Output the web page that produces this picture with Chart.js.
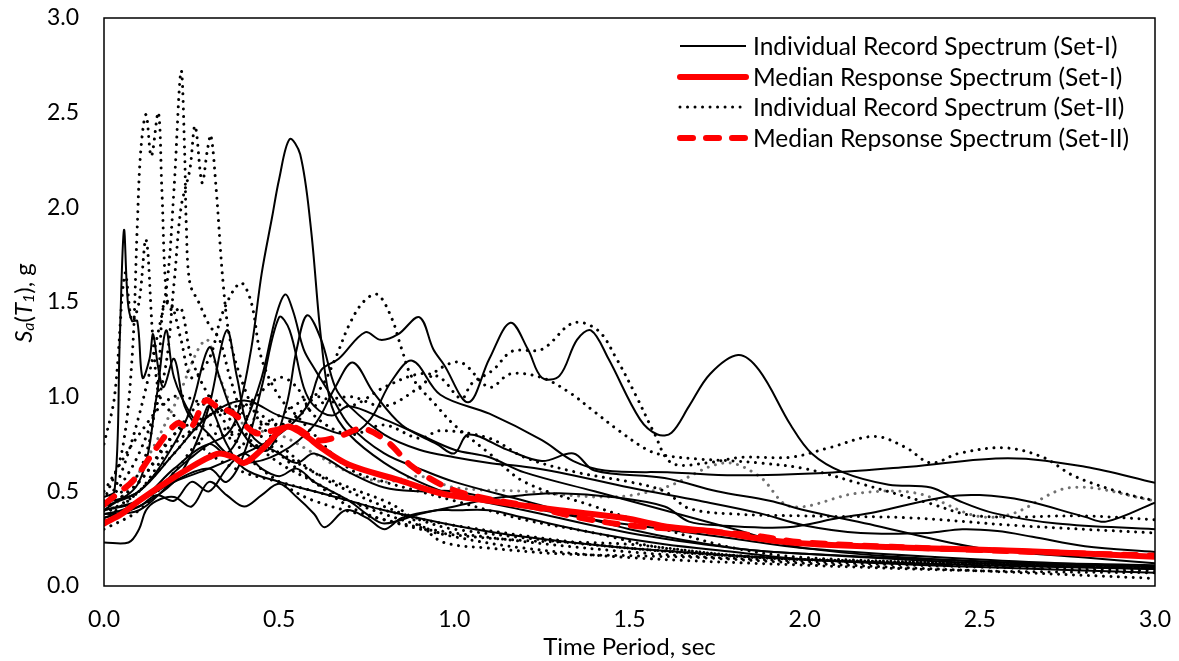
<!DOCTYPE html>
<html><head><meta charset="utf-8">
<script src="https://cdn.jsdelivr.net/npm/chart.js@4.4.1/dist/chart.umd.min.js"></script>
<style>html,body{margin:0;padding:0;background:#fff;}#wrap{width:1179px;height:661px;position:relative;}</style>
</head><body><div id="wrap"><canvas id="c" width="1179" height="661"></canvas></div>
<script>
// ---- Tick labels ----
const xTickValues = [0, 0.5, 1.0, 1.5, 2.0, 2.5, 3.0];
const yTickValues = [0, 0.5, 1.0, 1.5, 2.0, 2.5, 3.0];
const xAxisTitle = 'Time Period, sec';
const legendLabels = [
  'Individual Record Spectrum (Set-I)',
  'Median Response Spectrum (Set-I)',
  'Individual Record Spectrum (Set-II)',
  'Median Repsonse Spectrum (Set-II)'
];

// ---- Set-I individual records: [period (s), Sa (g)] ----
const set1Rec01 = [[0,0.38],[0.05,0.4],[0.1,0.45],[0.15,0.5],[0.2,0.6],[0.25,0.68],[0.3,0.75],[0.35,0.8],[0.38,0.9],[0.42,1.25],[0.45,1.65],[0.48,1.95],[0.5,2.15],[0.53,2.36],[0.56,2.28],[0.59,1.9],[0.62,1.3],[0.65,0.95],[0.7,0.8],[0.8,0.65],[0.9,0.55],[1.0,0.48],[1.2,0.4],[1.5,0.28],[1.8,0.2],[2.0,0.17],[2.5,0.13],[3.0,0.11]];
const set1Rec02 = [[0,0.47],[0.03,0.5],[0.045,1.3],[0.057,1.88],[0.068,1.5],[0.08,1.4],[0.095,1.4],[0.11,1.1],[0.13,1.2],[0.14,1.33],[0.155,1.15],[0.17,1.05],[0.2,1.2],[0.23,0.95],[0.27,0.85],[0.3,0.95],[0.35,0.75],[0.4,0.62],[0.5,0.55],[0.6,0.5],[0.7,0.45],[0.8,0.4],[1.0,0.32],[1.2,0.26],[1.5,0.2],[2.0,0.14],[2.5,0.11],[3.0,0.09]];
const set1Rec03 = [[0,0.4],[0.1,0.45],[0.2,0.62],[0.3,0.75],[0.35,0.7],[0.4,0.85],[0.45,1.1],[0.49,1.42],[0.517,1.54],[0.54,1.45],[0.57,1.25],[0.6,1.15],[0.65,1.0],[0.7,0.85],[0.8,0.7],[0.9,0.62],[1.0,0.55],[1.2,0.45],[1.5,0.3],[1.8,0.2],[2.0,0.17],[2.5,0.12],[3.0,0.09]];
const set1Rec04 = [[0,0.38],[0.1,0.4],[0.2,0.55],[0.3,0.62],[0.35,0.55],[0.4,0.7],[0.45,1.05],[0.5,1.42],[0.53,1.35],[0.57,1.05],[0.6,0.95],[0.65,0.9],[0.7,0.95],[0.8,0.88],[0.9,0.8],[1.0,0.72],[1.1,0.68],[1.2,0.6],[1.4,0.5],[1.6,0.4],[1.8,0.3],[2.0,0.2],[2.5,0.13],[3.0,0.1]];
const set1Rec05 = [[0,0.44],[0.1,0.5],[0.2,0.75],[0.25,0.95],[0.3,1.26],[0.33,1.1],[0.37,0.9],[0.42,0.75],[0.47,0.72],[0.52,0.95],[0.55,1.25],[0.58,1.43],[0.62,1.3],[0.66,1.05],[0.7,0.95],[0.8,0.8],[0.9,0.72],[1.0,0.68],[1.1,0.65],[1.2,0.63],[1.3,0.6],[1.5,0.52],[1.7,0.45],[1.87,0.385],[2.0,0.32],[2.16,0.28],[2.35,0.28],[2.45,0.3],[2.55,0.29],[2.65,0.26],[2.8,0.21],[3.0,0.18]];
const set1Rec06 = [[0,0.4],[0.1,0.45],[0.2,0.55],[0.3,0.62],[0.4,0.7],[0.5,0.8],[0.58,0.95],[0.62,1.14],[0.67,1.2],[0.745,1.34],[0.79,1.3],[0.84,1.33],[0.9,1.42],[0.94,1.25],[0.97,1.17],[1.04,0.97],[1.1,1.2],[1.16,1.39],[1.21,1.25],[1.25,1.1],[1.3,1.11],[1.35,1.3],[1.39,1.35],[1.44,1.2],[1.53,0.88],[1.58,0.8],[1.62,0.81],[1.67,0.95],[1.73,1.12],[1.81,1.22],[1.87,1.14],[1.96,0.85],[2.02,0.7],[2.11,0.6],[2.24,0.535],[2.36,0.52],[2.44,0.45],[2.54,0.385],[2.72,0.33],[3.0,0.3]];
const set1Rec07 = [[0,0.42],[0.1,0.5],[0.2,0.7],[0.3,0.9],[0.4,0.98],[0.5,0.9],[0.6,0.85],[0.7,0.8],[0.76,0.88],[0.82,1.08],[0.88,1.19],[0.96,1.01],[1.1,0.91],[1.25,0.77],[1.34,0.66],[1.43,0.61],[1.62,0.6],[1.8,0.585],[2.08,0.6],[2.3,0.63],[2.58,0.675],[2.8,0.63],[3.0,0.545]];
const set1Rec08 = [[0,0.4],[0.1,0.55],[0.15,1.0],[0.177,1.35],[0.2,1.1],[0.25,0.9],[0.3,0.8],[0.35,0.7],[0.4,0.65],[0.5,0.7],[0.6,0.85],[0.66,1.05],[0.71,1.18],[0.77,1.02],[0.85,0.85],[0.95,0.75],[1.0,0.7],[1.04,0.8],[1.15,0.72],[1.25,0.66],[1.34,0.7],[1.4,0.61],[1.6,0.57],[1.75,0.5],[1.9,0.45],[2.0,0.4],[2.2,0.32],[2.5,0.2],[2.8,0.15],[3.0,0.12]];
const set1Rec09 = [[0,0.23],[0.07,0.23],[0.1,0.3],[0.12,0.4],[0.15,0.45],[0.2,0.47],[0.25,0.42],[0.3,0.55],[0.35,0.48],[0.4,0.42],[0.45,0.48],[0.5,0.54],[0.55,0.47],[0.6,0.38],[0.63,0.31],[0.69,0.4],[0.75,0.36],[0.8,0.3],[0.85,0.36],[0.95,0.4],[1.0,0.4],[1.1,0.4],[1.2,0.36],[1.4,0.28],[1.6,0.22],[1.8,0.18],[2.0,0.14],[2.5,0.1],[3.0,0.07]];
const set1Rec10 = [[0,0.36],[0.1,0.42],[0.15,0.48],[0.2,0.45],[0.25,0.55],[0.3,0.5],[0.35,0.62],[0.4,0.7],[0.45,0.62],[0.5,0.58],[0.55,0.62],[0.6,0.55],[0.7,0.45],[0.75,0.38],[0.8,0.33],[0.9,0.38],[1.0,0.42],[1.1,0.46],[1.2,0.48],[1.3,0.49],[1.45,0.47],[1.6,0.42],[1.67,0.34],[1.76,0.32],[1.95,0.31],[2.1,0.36],[2.2,0.39],[2.4,0.47],[2.5,0.48],[2.63,0.45],[2.8,0.365],[2.86,0.34],[3.0,0.44]];
const set1Rec11 = [[0,0.36],[0.1,0.42],[0.2,0.55],[0.25,0.7],[0.3,0.95],[0.35,1.35],[0.38,1.1],[0.42,0.8],[0.5,0.7],[0.55,0.65],[0.6,0.7],[0.7,0.6],[0.8,0.52],[0.9,0.5],[1.0,0.5],[1.2,0.42],[1.4,0.35],[1.6,0.3],[1.8,0.25],[2.0,0.2],[2.5,0.14],[3.0,0.1]];

// ---- Set-II individual records ----
const set2Rec01 = [[0,0.4],[0.05,0.6],[0.1,0.9],[0.15,1.3],[0.18,1.6],[0.2,2.1],[0.22,2.72],[0.23,2.3],[0.235,1.9],[0.245,1.6],[0.27,1.5],[0.3,1.38],[0.33,1.3],[0.36,1.1],[0.4,0.9],[0.5,0.7],[0.6,0.55],[0.7,0.42],[0.8,0.35],[1.0,0.26],[1.2,0.2],[1.5,0.15],[2.0,0.11],[2.5,0.08],[3.0,0.07]];
const set2Rec02 = [[0,0.45],[0.05,0.7],[0.08,1.2],[0.095,1.9],[0.105,2.3],[0.12,2.49],[0.135,2.27],[0.155,2.5],[0.165,2.1],[0.18,1.5],[0.2,1.45],[0.22,1.47],[0.25,1.2],[0.3,1.0],[0.35,0.85],[0.4,0.7],[0.5,0.55],[0.6,0.45],[0.8,0.35],[1.0,0.28],[1.5,0.18],[2.0,0.13],[2.5,0.1],[3.0,0.08]];
const set2Rec03 = [[0,0.4],[0.1,0.7],[0.17,1.1],[0.2,1.6],[0.22,2.0],[0.245,2.2],[0.26,2.43],[0.28,2.13],[0.295,2.3],[0.305,2.38],[0.32,2.1],[0.34,1.6],[0.36,1.3],[0.4,1.05],[0.45,0.85],[0.5,0.75],[0.6,0.6],[0.7,0.5],[0.8,0.42],[0.9,0.35],[1.0,0.3],[1.5,0.2],[2.0,0.14],[2.5,0.11],[3.0,0.1]];
const set2Rec04 = [[0,0.75],[0.03,1.0],[0.06,1.65],[0.08,1.4],[0.1,1.5],[0.12,1.83],[0.14,1.3],[0.16,1.0],[0.2,0.9],[0.25,0.8],[0.3,0.7],[0.4,0.6],[0.5,0.55],[0.6,0.5],[0.8,0.4],[1.0,0.32],[1.5,0.2],[2.0,0.14],[3.0,0.1]];
const set2Rec05 = [[0,0.42],[0.1,0.6],[0.15,1.0],[0.17,1.49],[0.19,1.5],[0.22,1.3],[0.25,1.1],[0.3,1.2],[0.34,1.45],[0.39,1.6],[0.42,1.5],[0.45,1.2],[0.5,1.0],[0.55,0.9],[0.6,0.8],[0.7,0.62],[0.8,0.55],[0.9,0.5],[1.0,0.45],[1.2,0.35],[1.4,0.28],[1.6,0.2],[2.0,0.14],[3.0,0.09]];
const set2Rec06 = [[0,0.4],[0.1,0.55],[0.2,0.8],[0.3,0.9],[0.4,0.95],[0.5,0.85],[0.55,0.9],[0.62,1.05],[0.66,1.2],[0.7,1.38],[0.74,1.5],[0.78,1.54],[0.82,1.42],[0.85,1.25],[0.88,1.1],[0.95,0.95],[1.0,0.85],[1.1,0.7],[1.2,0.55],[1.4,0.42],[1.6,0.3],[1.8,0.2],[2.0,0.15],[2.5,0.12],[3.0,0.1]];
const set2Rec07 = [[0,0.38],[0.1,0.5],[0.2,0.75],[0.3,0.85],[0.4,0.8],[0.5,0.9],[0.6,1.0],[0.7,0.95],[0.8,1.05],[0.9,1.12],[0.96,1.1],[1.02,0.99],[1.05,1.07],[1.11,1.14],[1.165,1.24],[1.25,1.25],[1.34,1.39],[1.41,1.35],[1.46,1.21],[1.52,1.0],[1.57,0.81],[1.62,0.65],[1.72,0.65],[1.82,0.68],[1.96,0.68],[2.07,0.73],[2.2,0.79],[2.29,0.73],[2.36,0.65],[2.44,0.7],[2.57,0.73],[2.68,0.68],[2.77,0.58],[2.91,0.49],[3.0,0.45]];
const set2Rec08 = [[0,0.5],[0.1,0.8],[0.2,1.0],[0.3,0.95],[0.4,0.9],[0.5,0.85],[0.6,0.95],[0.7,1.0],[0.8,0.95],[0.9,1.05],[0.96,1.15],[1.02,1.18],[1.1,1.05],[1.16,1.12],[1.25,1.1],[1.33,1.02],[1.4,0.92],[1.47,0.82],[1.55,0.72],[1.6,0.69],[1.7,0.67],[1.8,0.66],[1.87,0.65],[2.0,0.62],[2.16,0.54],[2.35,0.44],[2.49,0.37],[2.8,0.37],[3.0,0.35]];
const set2Rec09 = [[0,0.35],[0.1,0.5],[0.2,0.7],[0.3,0.9],[0.4,0.95],[0.5,1.1],[0.55,1.05],[0.6,0.9],[0.7,0.8],[0.8,0.85],[0.9,0.78],[0.96,0.82],[1.1,0.78],[1.2,0.68],[1.35,0.6],[1.5,0.55],[1.6,0.5],[1.67,0.41],[1.8,0.38],[2.0,0.37],[2.3,0.36],[2.6,0.32],[3.0,0.28]];
const set2Rec10 = [[0,0.3],[0.1,0.4],[0.2,0.6],[0.3,0.8],[0.4,0.75],[0.5,0.7],[0.6,0.6],[0.7,0.52],[0.8,0.45],[0.85,0.4],[0.91,0.31],[0.97,0.23],[1.1,0.2],[1.3,0.17],[1.5,0.16],[1.7,0.15],[2.0,0.12],[2.5,0.08],[3.0,0.04]];
const set2Rec11 = [[0,0.4],[0.1,0.55],[0.2,0.8],[0.3,1.0],[0.35,0.9],[0.4,0.8],[0.5,0.65],[0.6,0.55],[0.7,0.45],[0.8,0.38],[0.9,0.32],[0.96,0.28],[1.2,0.24],[1.5,0.22],[1.8,0.16],[2.0,0.14],[2.5,0.12],[3.0,0.1]];
const set2Rec12Grey = [[0,0.35],[0.1,0.6],[0.2,0.95],[0.29,1.3],[0.33,1.1],[0.4,0.85],[0.5,0.8],[0.6,0.7],[0.7,0.6],[0.8,0.55],[0.9,0.58],[1.0,0.52],[1.2,0.5],[1.45,0.47],[1.6,0.52],[1.77,0.65],[1.87,0.58],[1.96,0.42],[2.15,0.49],[2.32,0.49],[2.49,0.37],[2.59,0.38],[2.76,0.52],[3.0,0.45]];

// ---- Median spectra ----
const medianSet1 = [[0,0.33],[0.05,0.38],[0.1,0.45],[0.18,0.55],[0.25,0.63],[0.3,0.68],[0.33,0.7],[0.37,0.68],[0.4,0.65],[0.45,0.72],[0.52,0.84],[0.57,0.8],[0.62,0.73],[0.7,0.64],[0.84,0.56],[0.96,0.49],[1.1,0.45],[1.3,0.4],[1.48,0.36],[1.62,0.31],[1.73,0.29],[1.96,0.23],[2.34,0.2],[2.62,0.185],[3.0,0.155]];
const medianSet2 = [[0,0.43],[0.04,0.49],[0.085,0.56],[0.15,0.73],[0.21,0.86],[0.245,0.83],[0.29,0.98],[0.32,0.95],[0.37,0.91],[0.43,0.81],[0.48,0.82],[0.54,0.84],[0.61,0.77],[0.67,0.79],[0.74,0.83],[0.81,0.76],[0.88,0.63],[0.98,0.52],[1.07,0.47],[1.22,0.42],[1.36,0.36],[1.5,0.32],[1.64,0.3],[1.84,0.27],[2.0,0.23],[2.5,0.19],[3.0,0.16]];

const set1Records = [set1Rec01,set1Rec02,set1Rec03,set1Rec04,set1Rec05,set1Rec06,set1Rec07,set1Rec08,set1Rec09,set1Rec10,set1Rec11];
const set2Records = [set2Rec01,set2Rec02,set2Rec03,set2Rec04,set2Rec05,set2Rec06,set2Rec07,set2Rec08,set2Rec09,set2Rec10,set2Rec11];

const FONT = 'Lato';
const toXY = arr => arr.map(p => ({x: p[0], y: p[1]}));
const datasets = [];
datasets.push({label: legendLabels[3], data: toXY(medianSet2), order: 0, borderColor: '#ff0000', borderWidth: 6, borderDash: [13, 13], borderCapStyle: 'round', tension: 0.35});
datasets.push({label: legendLabels[1], data: toXY(medianSet1), order: 1, borderColor: '#ff0000', borderWidth: 6, borderCapStyle: 'round', tension: 0.35});
set1Records.forEach(r => datasets.push({label: legendLabels[0], data: toXY(r), order: 2, borderColor: '#000', borderWidth: 2, tension: 0.35}));
set2Records.forEach(r => datasets.push({label: legendLabels[2], data: toXY(r), order: 2, borderColor: '#000', borderWidth: 3, borderDash: [0.01, 7.5], borderCapStyle: 'round', tension: 0.35}));
datasets.push({label: legendLabels[2], data: toXY(set2Rec12Grey), order: 2, borderColor: '#707070', borderWidth: 3, borderDash: [0.01, 7.5], borderCapStyle: 'round', tension: 0.35});
datasets.forEach(d => { d.showLine = true; d.pointRadius = 0; d.fill = false; });

const legendStyles = [
  {color: '#000', width: 2, dash: [], cap: 'butt'},
  {color: '#ff0000', width: 6, dash: [], cap: 'round'},
  {color: '#000', width: 3, dash: [0.01, 7.5], cap: 'round'},
  {color: '#ff0000', width: 6, dash: [13, 13], cap: 'round'}
];

const decorPlugin = {
  id: 'decor',
  afterDatasetsDraw(chart) {
    const {ctx, chartArea: a} = chart;
    ctx.save();
    ctx.strokeStyle = '#000';
    ctx.lineWidth = 1.5;
    ctx.strokeRect(a.left, a.top, a.right - a.left, a.bottom - a.top);
    ctx.restore();
  },
  afterDraw(chart) {
    const {ctx, chartArea: a} = chart;
    ctx.save();
    // legend
    const lx0 = 680, lx1 = 746, tx = 753, rows = [46, 77, 107, 138];
    legendLabels.forEach((lab, i) => {
      const st = legendStyles[i];
      ctx.beginPath();
      ctx.strokeStyle = st.color; ctx.lineWidth = st.width; ctx.lineCap = st.cap; ctx.setLineDash(st.dash);
      ctx.moveTo(lx0, rows[i]); ctx.lineTo(lx1, rows[i]); ctx.stroke();
      ctx.setLineDash([]);
      ctx.fillStyle = '#000';
      ctx.font = `24.5px ${FONT}`;
      ctx.textBaseline = 'middle'; ctx.textAlign = 'left';
      ctx.fillText(lab, tx, rows[i] + 1);
    });
    // x title
    ctx.font = `24px ${FONT}`;
    ctx.textAlign = 'center'; ctx.textBaseline = 'middle';
    ctx.fillText(xAxisTitle, (a.left + a.right) / 2, 647);
    // y title with subscripts
    const parts = [
      {t: 'S', f: `italic 24px ${FONT}`, dy: 0},
      {t: 'a', f: `italic 16px ${FONT}`, dy: 5},
      {t: '(', f: `24px ${FONT}`, dy: 0},
      {t: 'T', f: `italic 24px ${FONT}`, dy: 0},
      {t: '1', f: `italic 16px ${FONT}`, dy: 5},
      {t: '), g', f: `24px ${FONT}`, dy: 0}
    ];
    let total = 0;
    parts.forEach(p => { ctx.font = p.f; p.w = ctx.measureText(p.t).width; total += p.w; });
    ctx.translate(24, 303);
    ctx.rotate(-Math.PI / 2);
    ctx.textAlign = 'left'; ctx.textBaseline = 'middle';
    let x = -total / 2;
    parts.forEach(p => { ctx.font = p.f; ctx.fillText(p.t, x, p.dy); x += p.w; });
    ctx.restore();
  }
};

new Chart(document.getElementById('c'), {
  type: 'scatter',
  data: {datasets},
  options: {
    responsive: false, animation: false, devicePixelRatio: 1,
    layout: {padding: {top: 18, right: 24, left: 0, bottom: 0}},
    plugins: {legend: {display: false}, tooltip: {enabled: false}},
    scales: {
      x: {
        type: 'linear', min: 0, max: 3,
        grid: {display: false, drawTicks: false}, border: {display: false},
        afterBuildTicks: s => { s.ticks = xTickValues.map(v => ({value: v})); },
        ticks: {padding: 20, color: '#000', font: {family: FONT, size: 23}, callback: v => Number(v).toFixed(1), maxRotation: 0, autoSkip: false},
        afterFit: s => { s.height = 75; s.paddingLeft = 0; s.paddingRight = 0; }
      },
      y: {
        type: 'linear', min: 0, max: 3,
        grid: {display: false, drawTicks: false}, border: {display: false},
        afterBuildTicks: s => { s.ticks = yTickValues.map(v => ({value: v})); },
        ticks: {padding: 25, color: '#000', font: {family: FONT, size: 23}, callback: v => Number(v).toFixed(1), autoSkip: false},
        afterFit: s => { s.width = 104; s.paddingTop = 0; s.paddingBottom = 0; }
      }
    }
  },
  plugins: [decorPlugin]
});
</script>
</body></html>
